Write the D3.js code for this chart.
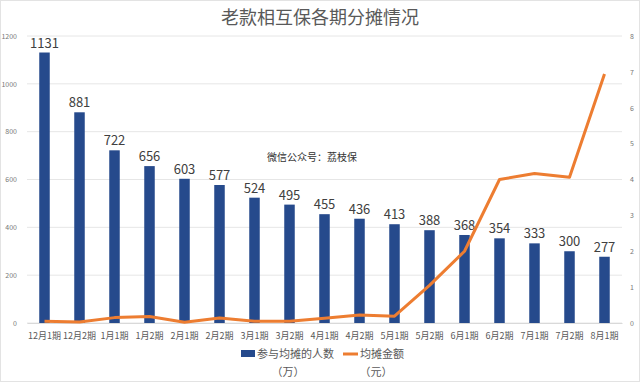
<!DOCTYPE html>
<html>
<head>
<meta charset="utf-8">
<script src="https://cdn.jsdelivr.net/npm/d3@7"></script>
<style>
  body { margin: 0; background: #fff; }
  text { font-family: "Noto Sans CJK SC", "Noto Sans", sans-serif; }
</style>
</head>
<body>
<svg id="chart" width="640" height="382"></svg>
<script>
var periods = ["12月1期","12月2期","1月1期","1月2期","2月1期","2月2期","3月1期","3月2期","4月1期","4月2期","5月1期","5月2期","6月1期","6月2期","7月1期","7月2期","8月1期"];
var people = [1131,881,722,656,603,577,524,495,455,436,413,388,368,354,333,300,277];
var amount = [0.05,0.03,0.15,0.18,0.02,0.14,0.05,0.05,0.13,0.22,0.19,1.05,2.0,4.0,4.17,4.06,6.94];
var leftTicks = [0,200,400,600,800,1000,1200];
var rightTicks = [0,1,2,3,4,5,6,7,8];

var svg = d3.select("#chart");

var margins = { top: 36, bottom: 59, left: 27, right: 18 };
var width = 640 - margins.left - margins.right;
var height = 382 - margins.top - margins.bottom;

// frame
svg.append("rect").attr("x",0.5).attr("y",0.5).attr("width",639).attr("height",381)
   .attr("fill","#fff").attr("stroke","#e3e3e3");

svg.append("text").attr("x",320).attr("y",24).attr("text-anchor","middle")
   .attr("font-size",18).attr("fill","#595959").text("老款相互保各期分摊情况");

var xScale = d3.scaleBand().domain(periods).range([0,width]).paddingInner(0.7).paddingOuter(0.35);
var yLeft = d3.scaleLinear().domain([0,1200]).range([height,0]);
var yRight = d3.scaleLinear().domain([0,8]).range([height,0]);

var plot = svg.append("g").attr("transform","translate("+margins.left+","+margins.top+")");

// grid
plot.selectAll(".grid").data(leftTicks).enter().append("line")
    .attr("x1",0).attr("x2",width)
    .attr("y1",function(d){return yLeft(d);}).attr("y2",function(d){return yLeft(d);})
    .attr("stroke","#e6e6e6").attr("stroke-width",1);

// left axis
var axL = plot.append("g").call(d3.axisLeft(yLeft).tickValues(leftTicks).tickFormat(d3.format("d")).tickSize(0).tickPadding(10));
axL.select(".domain").remove();
axL.selectAll("text").attr("font-size",7).attr("fill","#777");

// right axis
var axR = plot.append("g").attr("transform","translate("+width+",0)")
    .call(d3.axisRight(yRight).tickValues(rightTicks).tickSize(0).tickPadding(8));
axR.select(".domain").remove();
axR.selectAll("text").attr("font-size",7).attr("fill","#777");

// bottom axis
var axB = plot.append("g").attr("transform","translate(0,"+height+")")
    .call(d3.axisBottom(xScale).tickSize(0).tickPadding(10));
axB.select(".domain").attr("stroke","#d9d9d9");
axB.selectAll("text").attr("font-size",9).attr("fill","#595959");

// bars
plot.selectAll(".bar").data(people).enter().append("rect")
    .attr("x",function(d,i){return xScale(periods[i]);})
    .attr("width",xScale.bandwidth())
    .attr("y",function(d){return yLeft(d);})
    .attr("height",function(d){return height - yLeft(d);})
    .attr("fill","#264a8c");

plot.selectAll(".lbl").data(people).enter().append("text")
    .attr("x",function(d,i){return xScale(periods[i]) + xScale.bandwidth()/2;})
    .attr("y",function(d){return yLeft(d) - 5;})
    .attr("text-anchor","middle").attr("font-size",13).attr("fill","#404040")
    .text(function(d){return d;});

// line
var line = d3.line()
    .x(function(d,i){return xScale(periods[i]) + xScale.bandwidth()/2;})
    .y(function(d){return yRight(d);});
plot.append("path").datum(amount).attr("d",line)
    .attr("fill","none").attr("stroke","#ed7d31").attr("stroke-width",3)
    .attr("stroke-linejoin","round");

// watermark
svg.append("text").attr("x",312).attr("y",161).attr("text-anchor","middle")
   .attr("font-size",10).attr("fill","#333").text("微信公众号：荔枝保");

// legend
var leg = svg.append("g");
leg.append("rect").attr("x",241).attr("y",350).attr("width",14).attr("height",7).attr("fill","#264a8c");
leg.append("text").attr("x",257).attr("y",358).attr("font-size",11).attr("fill","#595959").text("参与均摊的人数");
leg.append("text").attr("x",288).attr("y",376).attr("text-anchor","middle").attr("font-size",11).attr("fill","#595959").text("（万）");
leg.append("line").attr("x1",343).attr("x2",358).attr("y1",354).attr("y2",354).attr("stroke","#ed7d31").attr("stroke-width",3);
leg.append("text").attr("x",360).attr("y",358).attr("font-size",11).attr("fill","#595959").text("均摊金额");
leg.append("text").attr("x",376).attr("y",376).attr("text-anchor","middle").attr("font-size",11).attr("fill","#595959").text("（元）");
</script>
</body>
</html>
